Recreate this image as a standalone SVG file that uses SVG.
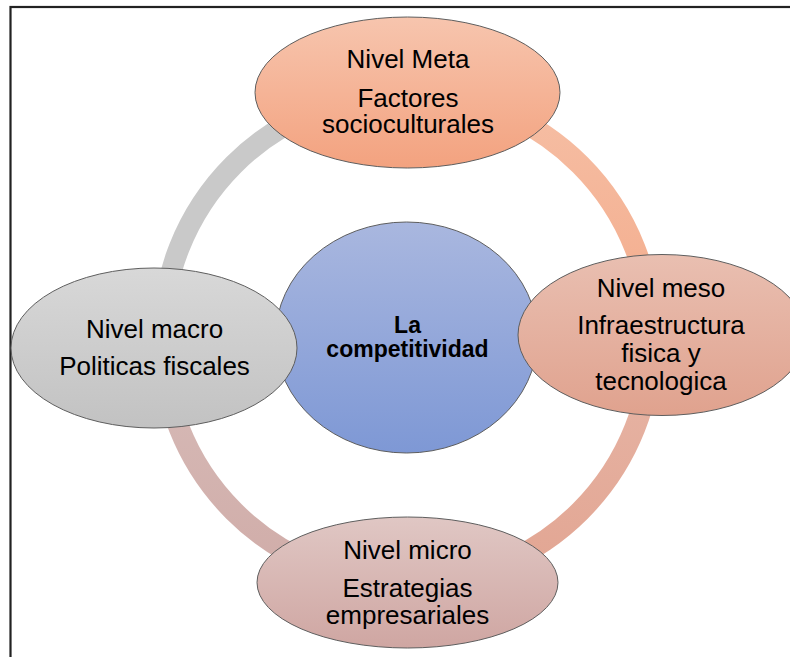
<svg xmlns="http://www.w3.org/2000/svg" width="790" height="657" viewBox="0 0 790 657">
<style>
.t{font-family:"Liberation Sans",Arial,sans-serif;font-size:26px;fill:#000;text-anchor:middle}
.b{font-family:"Liberation Sans",Arial,sans-serif;font-size:23px;font-weight:bold;fill:#000;text-anchor:middle}
.arc{fill:none;stroke-width:21}
.node{stroke:#5e5e5e;stroke-width:1}
</style>
<defs>
<linearGradient id="gMeta" x1="0" y1="0" x2="0" y2="1"><stop offset="0" stop-color="#f7c5ae"/><stop offset="1" stop-color="#f3a27f"/></linearGradient>
<linearGradient id="gMeso" x1="0" y1="0" x2="0" y2="1"><stop offset="0" stop-color="#e9bfb1"/><stop offset="1" stop-color="#e0a28e"/></linearGradient>
<linearGradient id="gMicro" x1="0" y1="0" x2="0" y2="1"><stop offset="0" stop-color="#e0c7c4"/><stop offset="1" stop-color="#cfa6a2"/></linearGradient>
<linearGradient id="gMacro" x1="0" y1="0" x2="0" y2="1"><stop offset="0" stop-color="#d8d8d8"/><stop offset="1" stop-color="#c2c2c2"/></linearGradient>
<linearGradient id="gCenter" x1="0" y1="0" x2="0" y2="1"><stop offset="0" stop-color="#a9b7df"/><stop offset="1" stop-color="#7e98d5"/></linearGradient>
<linearGradient id="aSalmon" x1="0" y1="0" x2="0" y2="1"><stop offset="0" stop-color="#f6bfa5"/><stop offset="1" stop-color="#f3ab8b"/></linearGradient>
<linearGradient id="aRose" x1="0" y1="0" x2="0" y2="1"><stop offset="0" stop-color="#e7b6a7"/><stop offset="1" stop-color="#e2a592"/></linearGradient>
<linearGradient id="aMauve" x1="0" y1="0" x2="0" y2="1"><stop offset="0" stop-color="#d7bcb9"/><stop offset="1" stop-color="#d0aca8"/></linearGradient>
</defs>
<rect x="0" y="0" width="790" height="657" fill="#fff"/>
<rect x="10.5" y="7" width="800" height="700" fill="none" stroke="#222" stroke-width="2.2"/>
<g id="connectors">
<path class="arc" stroke="#c9c9c9" d="M162,338 A245,245 0 0 1 407,93"/>
<path class="arc" stroke="url(#aSalmon)" d="M407,93 A245,245 0 0 1 652,338"/>
<path class="arc" stroke="url(#aRose)" d="M652,338 A245,245 0 0 1 407,583"/>
<path class="arc" stroke="url(#aMauve)" d="M407,583 A245,245 0 0 1 162,338"/>
</g>
<g id="center">
<ellipse class="node" cx="406.5" cy="337.5" rx="131" ry="115.5" fill="url(#gCenter)"/>
<text class="b" x="407.5" y="333">La</text>
<text class="b" x="407.5" y="357">competitividad</text>
</g>
<g id="meta">
<ellipse class="node" cx="407.5" cy="92.5" rx="152.5" ry="75.5" fill="url(#gMeta)"/>
<text class="t" x="408" y="68">Nivel Meta</text>
<text class="t" x="408" y="107">Factores</text>
<text class="t" x="408" y="133">socioculturales</text>
</g>
<g id="meso">
<ellipse class="node" cx="662" cy="335" rx="144" ry="80.5" fill="url(#gMeso)"/>
<text class="t" x="661" y="297">Nivel meso</text>
<text class="t" x="661" y="334">Infraestructura</text>
<text class="t" x="661" y="362">fisica y</text>
<text class="t" x="661" y="390">tecnologica</text>
</g>
<g id="micro">
<ellipse class="node" cx="407.5" cy="582.5" rx="150.5" ry="65.5" fill="url(#gMicro)"/>
<text class="t" x="407.5" y="559">Nivel micro</text>
<text class="t" x="407.5" y="597">Estrategias</text>
<text class="t" x="407.5" y="624">empresariales</text>
</g>
<g id="macro">
<ellipse class="node" cx="154" cy="348" rx="143" ry="80" fill="url(#gMacro)"/>
<text class="t" x="154.5" y="338">Nivel macro</text>
<text class="t" x="154.5" y="375">Politicas fiscales</text>
</g>
</svg>
